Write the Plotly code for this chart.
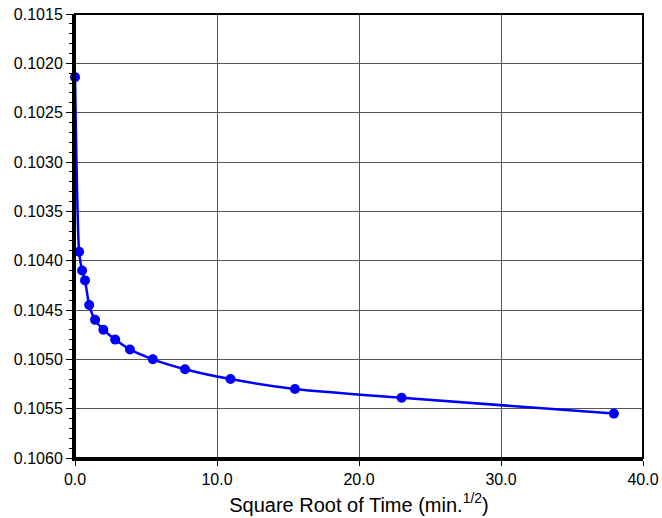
import plotly.graph_objects as go

sqrt_time = [0.0, 0.289, 0.5, 0.707, 1.0, 1.414, 2.0, 2.83, 3.87, 5.48, 7.75, 10.95, 15.49, 23.0, 37.95]
values = [0.10214, 0.10391, 0.10410, 0.10420, 0.10445, 0.10460, 0.10470, 0.10480,
          0.10490, 0.10500, 0.10510, 0.10520, 0.10530, 0.10539, 0.10555]

x_ticks = [0, 10, 20, 30, 40]
x_tick_labels = ["0.0", "10.0", "20.0", "30.0", "40.0"]

fig = go.Figure()
fig.add_trace(go.Scatter(
    x=sqrt_time, y=values, mode="lines+markers",
    line=dict(color="#0000FF", width=2.5, shape="spline", smoothing=0.6),
    marker=dict(color="#0000FF", size=10),
    showlegend=False,
    cliponaxis=False,
))

fig.update_layout(
    width=662, height=518,
    margin=dict(l=75, r=19, t=14, b=60),
    paper_bgcolor="white", plot_bgcolor="white",
    font=dict(family="Liberation Sans, Arial, sans-serif", color="black", size=16),
    shapes=[dict(type="rect", xref="paper", yref="paper", x0=0, y0=0, x1=1, y1=1,
                 line=dict(color="black", width=2), layer="above")],
)
fig.update_xaxes(
    range=[0, 40], tickvals=x_ticks, ticktext=x_tick_labels, automargin=False,
    showgrid=True, gridcolor="#555555", gridwidth=1,
    zeroline=False, showline=True, linecolor="black", linewidth=3,
    ticks="outside", ticklen=5, tickcolor="black", tickfont=dict(size=16),
    ticklabeloverflow="allow",
    title=dict(text="Square Root of Time (min.<sup>1/2</sup>)", font=dict(size=20), standoff=11),
)
fig.update_yaxes(
    range=[0.1060, 0.1015], dtick=0.0005, tick0=0.1015, tickformat=".4f", automargin=False,
    showgrid=True, gridcolor="#555555", gridwidth=1,
    zeroline=False, showline=True, linecolor="black", linewidth=3,
    ticks="outside", ticklen=6, tickcolor="black", tickfont=dict(size=16),
    ticklabeloverflow="allow",
    minor=dict(ticks="outside", dtick=0.0001, ticklen=3, tickcolor="black", showgrid=False),
)

fig.write_html(
    "out.html",
    config={"displayModeBar": False},
    post_script="document.body.style.margin='0';document.body.style.overflow='hidden';",
)
